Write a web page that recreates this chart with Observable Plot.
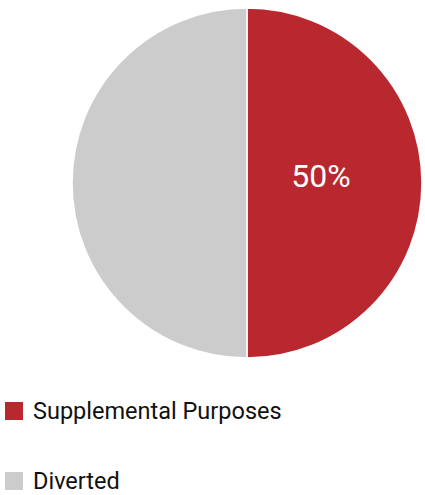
<!DOCTYPE html>
<html>
<head>
<meta charset="utf-8">
<script src="https://cdn.jsdelivr.net/npm/d3@7"></script>
<script src="https://cdn.jsdelivr.net/npm/@observablehq/plot@0.6"></script>
<style>
  html, body { margin: 0; padding: 0; background: #fff; }
  body { width: 425px; height: 495px; overflow: hidden; font-family: Roboto, "Noto Sans", sans-serif; }
  #legend { margin-top: 30px; }
  .item { display: flex; align-items: center; height: 18px; line-height: 18px; margin-left: 5px; font-size: 23.5px; color: #111; }
  .item + .item { margin-top: 52px; }
  .sw { width: 18px; height: 18px; margin-right: 10px; flex: none; }
</style>
</head>
<body>
<div id="chart"></div>
<div id="legend"></div>
<script>
const categories = ["Supplemental Purposes", "Diverted"];
const values = [50, 50];
const colors = ["#B9282F", "#CCCCCC"];
const labels = ["50%", ""];

const data = categories.map((c, i) => ({category: c, value: values[i], label: labels[i]}));
const pie = d3.pie().sort(null).value(d => d.value)(data);
// label position in unit-radius coordinates
const labelR = 0.42;
const labelData = pie.map(p => {
  const a = (p.startAngle + p.endAngle) / 2;
  return {...p.data, lx: labelR * Math.sin(a), ly: labelR * Math.cos(a) + 0.04};
}).filter(d => d.label);

const cx = 247, cy = 183, R = 175;

function pieMark(index, scales, values_, dimensions) {
  const sx = scales.x, sy = scales.y;
  const ox = sx(0), oy = sy(0);
  const r = Math.abs(sx(1) - sx(0));
  const g = d3.create("svg:g").attr("transform", `translate(${ox},${oy})`);
  const arc = d3.arc().innerRadius(0).outerRadius(r);
  g.selectAll("path").data(pie).join("path")
    .attr("d", arc)
    .attr("fill", d => scales.color(d.data.category))
    .attr("stroke", "#fff")
    .attr("stroke-width", 1.5)
    .attr("stroke-linejoin", "round");
  return g.node();
}

const chart = Plot.plot({
  width: 425,
  height: 372,
  margin: 0,
  x: {domain: [-1, 1], range: [cx - R, cx + R], axis: null},
  y: {domain: [-1, 1], range: [cy + R, cy - R], axis: null},
  color: {domain: categories, range: colors},
  style: {fontFamily: "Roboto, 'Noto Sans', sans-serif", background: "transparent"},
  marks: [
    pieMark,
    Plot.text(labelData, {x: "lx", y: "ly", text: "label", fill: "#fff", fontSize: 32, textAnchor: "middle"})
  ]
});
document.getElementById("chart").appendChild(chart);

const legend = d3.select("#legend");
categories.forEach((c, i) => {
  const it = legend.append("div").attr("class", "item");
  it.append("div").attr("class", "sw").style("background", colors[i]);
  it.append("span").text(c);
});
</script>
</body>
</html>
